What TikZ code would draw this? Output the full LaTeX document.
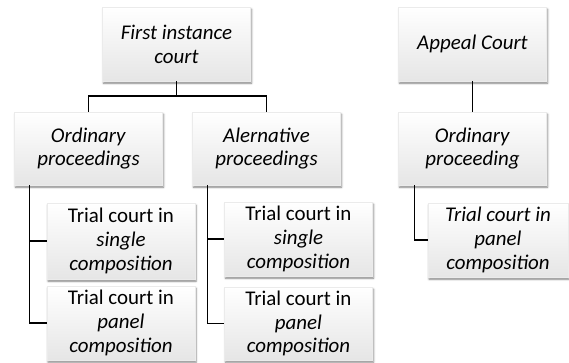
\documentclass[tikz,border=0pt]{standalone}
\usepackage{fontspec}
\setmainfont{Carlito}
\usetikzlibrary{shadows.blur}
\begin{document}
\begin{tikzpicture}[x=1bp,y=-1bp,
  box/.style={draw=black!8, line width=0.4bp, top color=white, bottom color=black!10,
    minimum width=148bp, minimum height=74bp, inner sep=2bp, align=center,
    font=\fontsize{21}{24}\selectfont,
    blur shadow={shadow xshift=1bp, shadow yshift=-2.2bp, shadow blur radius=2bp, shadow opacity=50}},
  link/.style={draw=black, line width=1.4bp}]
\useasboundingbox (0,0) rectangle (569,362);
\node[box] (fic) at (176.5,44) {\textit{First instance}\\\textit{court}};
\node[box] (app) at (472.5,44) {\textit{Appeal Court}};
\node[box, minimum height=73bp] (ord) at (88.5,148.5) {\textit{Ordinary}\\\textit{proceedings}};
\node[box, minimum height=73bp] (alt) at (266.5,148.5) {\textit{Alernative}\\\textit{proceedings}};
\node[box, minimum height=73bp] (aop) at (472.5,148.5) {\textit{Ordinary}\\\textit{proceeding}};
\node[box, minimum height=76bp] (ls) at (121,241) {Trial court in\\\textit{single}\\\textit{composition}};
\node[box] (lp) at (121,323) {Trial court in\\\textit{panel}\\\textit{composition}};
\node[box] (rs) at (298.5,239) {Trial court in\\\textit{single}\\\textit{composition}};
\node[box, minimum height=73bp] (rp) at (298.5,323.5) {Trial court in\\\textit{panel}\\\textit{composition}};
\node[box, minimum width=140bp] (ap) at (498,240) {\textit{Trial court in}\\\textit{panel}\\\textit{composition}};
% connectors
\coordinate (fj) at (176.5,96);
\draw[link] (fic.south) -- (fj);
\draw[link] (fj) -| (ord.north);
\draw[link] (fj) -| (alt.north);
\draw[link] (app.south) -- (aop.north);
\draw[link] ([xshift=15bp]ord.south west) |- (ls.west);
\draw[link] ([xshift=15bp]ord.south west) |- (lp.west);
\draw[link] ([xshift=15bp]alt.south west) |- (rs.west);
\draw[link] ([xshift=15bp]alt.south west) |- (rp.west);
\draw[link] ([xshift=16bp]aop.south west) |- (ap.west);
\end{tikzpicture}
\end{document}
